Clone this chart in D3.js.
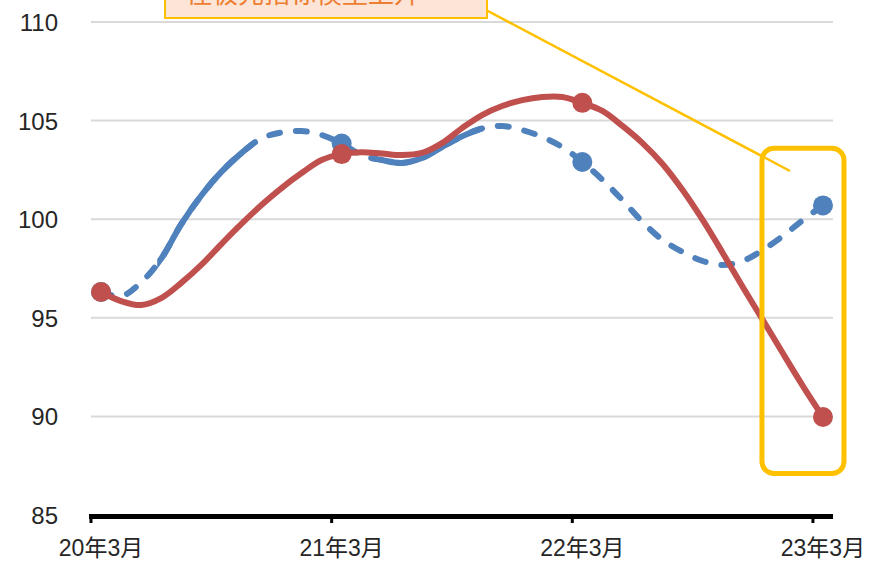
<!DOCTYPE html>
<html><head><meta charset="utf-8">
<script src="https://cdn.jsdelivr.net/npm/d3@7"></script>
<style>body{margin:0;background:#fff}svg{display:block}</style>
</head><body><svg id="c" width="872" height="562"></svg>
<script>
const months = ["20年3月","20年4月","20年5月","20年6月","20年7月","20年8月","20年9月","20年10月","20年11月","20年12月","21年1月","21年2月",
"21年3月","21年4月","21年5月","21年6月","21年7月","21年8月","21年9月","21年10月","21年11月","21年12月","22年1月","22年2月",
"22年3月","22年4月","22年5月","22年6月","22年7月","22年8月","22年9月","22年10月","22年11月","22年12月","23年1月","23年2月","23年3月"];
const tickLabels = ["20年3月","21年3月","22年3月","23年3月"];
const yTicks = [85,90,95,100,105,110];
const blueValues = [96.31,96.1,96.8,98.0,99.75,101.2,102.4,103.35,104.1,104.4,104.47,104.27,
103.84,103.25,103.0,102.85,103.1,103.66,104.2,104.6,104.73,104.52,104.17,103.66,
102.9,102.0,100.97,99.86,98.95,98.34,97.88,97.68,97.88,98.44,99.15,99.96,100.7];
const redValues = [96.31,95.85,95.65,96.0,96.77,97.68,98.74,99.76,100.72,101.58,102.34,103.0,
103.3,103.4,103.33,103.25,103.36,103.86,104.62,105.28,105.74,106.04,106.2,106.2,
105.9,105.49,104.73,103.86,102.8,101.48,99.96,98.29,96.56,94.89,93.2,91.54,89.97];
const markerMonths = ["20年3月","21年3月","22年3月","23年3月"];
// stretches (in month index units) where the blue line is drawn solid
const blueSolidSpans = [[2.8,7.6],[13.9,18.9]];
const annotationText = "住极先指标模型上升";
const highlightMonth = "23年3月";
const highlightRange = [87.2, 103.5];

const svg = d3.select("#c");
const x = d3.scaleBand().domain(months).range([91,833]).padding(0);
const bw = x.bandwidth();
const cx = m => x(m) + bw/2;
const xi = i => x(months[0]) + bw*(i+0.5);
const y = d3.scaleLinear().domain([85,110]).range([515,22]);

// gridlines
svg.append("g").selectAll("line").data(yTicks.filter(t=>t>85)).join("line")
  .attr("x1",91).attr("x2",833).attr("y1",d=>y(d)).attr("y2",d=>y(d))
  .attr("stroke","#d9d9d9").attr("stroke-width",2);
// y labels
svg.append("g").selectAll("text").data(yTicks).join("text")
  .attr("x",58).attr("y",d=>y(d)+9).attr("text-anchor","end")
  .attr("font-family","Liberation Sans, Arial, sans-serif").attr("font-size",24).attr("fill","#262626")
  .text(d=>d);

// x axis
const ax = svg.append("g");
ax.append("line").attr("x1",89).attr("x2",833).attr("y1",516.5).attr("y2",516.5)
  .attr("stroke","#000").attr("stroke-width",5);
ax.selectAll("line.t").data(tickLabels).join("line").attr("class","t")
  .attr("x1",d=>x(d)).attr("x2",d=>x(d)).attr("y1",516).attr("y2",523)
  .attr("stroke","#000").attr("stroke-width",3);
ax.selectAll("text").data(tickLabels).join("text")
  .attr("x",d=>cx(d)).attr("y",556).attr("text-anchor","middle")
  .attr("font-family","Liberation Sans, Noto Sans CJK SC, sans-serif").attr("font-size",23).attr("fill","#262626")
  .text(d=>d);

const line = d3.line().x((d,i)=>xi(i)).y(d=>y(d)).curve(d3.curveCatmullRom.alpha(0.5));

// clip for solid blue segments
const defs = svg.append("defs");
const cp = defs.append("clipPath").attr("id","solidclip");
blueSolidSpans.forEach(s=>cp.append("rect").attr("x",xi(s[0])).attr("width",xi(s[1])-xi(s[0])).attr("y",0).attr("height",562));

const blue = "#4f81bd", red = "#c0504d";
svg.append("path").attr("d",line(blueValues)).attr("fill","none").attr("stroke",blue)
  .attr("stroke-width",6).attr("stroke-dasharray","11,16").attr("stroke-linecap","round");
svg.append("path").attr("d",line(blueValues)).attr("fill","none").attr("stroke",blue)
  .attr("stroke-width",6).attr("clip-path","url(#solidclip)");
svg.append("g").selectAll("circle").data(markerMonths).join("circle")
  .attr("cx",d=>cx(d)).attr("cy",d=>y(blueValues[months.indexOf(d)])).attr("r",10).attr("fill",blue);

svg.append("path").attr("d",line(redValues)).attr("fill","none").attr("stroke",red)
  .attr("stroke-width",6).attr("stroke-linejoin","round");
svg.append("g").selectAll("circle").data(markerMonths).join("circle")
  .attr("cx",d=>cx(d)).attr("cy",d=>y(redValues[months.indexOf(d)])).attr("r",10).attr("fill",red);

// highlight box
svg.append("rect").attr("x",cx(highlightMonth)-61).attr("y",y(highlightRange[1])-2)
  .attr("width",82).attr("height",y(highlightRange[0])-y(highlightRange[1])+4)
  .attr("rx",12).attr("fill","none").attr("stroke","#ffc000").attr("stroke-width",5);

// annotation callout
svg.append("line").attr("x1",486).attr("y1",10).attr("x2",cx(highlightMonth)-33).attr("y2",171)
  .attr("stroke","#ffc000").attr("stroke-width",2.5);
svg.append("rect").attr("x",165).attr("y",-30).attr("width",322).attr("height",48)
  .attr("fill","#fce4d6").attr("stroke","#ffc000").attr("stroke-width",2);
svg.append("text").attr("x",186).attr("y",3).attr("font-family","Noto Sans CJK SC, sans-serif")
  .attr("font-size",26).attr("fill","#ed7d31").text(annotationText);
</script></body></html>
